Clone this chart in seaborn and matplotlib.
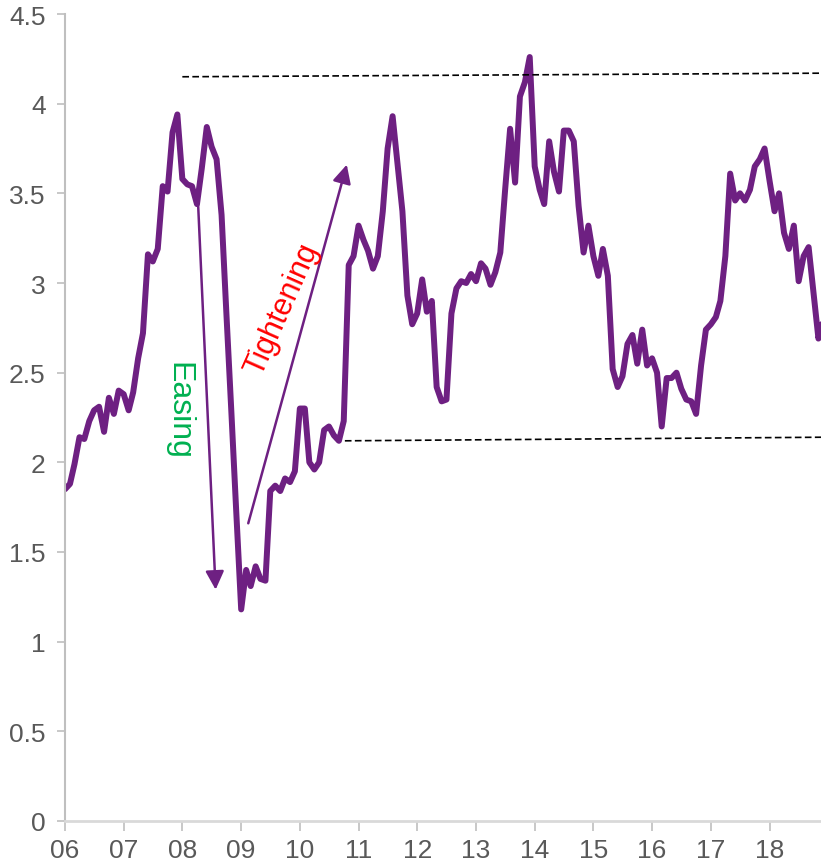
import pandas as pd
import numpy as np
import matplotlib
matplotlib.use("Agg")
import matplotlib.pyplot as plt
import matplotlib.dates as mdates
import seaborn as sns

# 월별 지표 값 (2006-01 ~ 2018-12)
values_2006 = [1.85, 1.88, 1.99, 2.14, 2.13, 2.23, 2.29, 2.31, 2.17, 2.36, 2.27, 2.40]
values_2007 = [2.38, 2.29, 2.39, 2.58, 2.72, 3.16, 3.12, 3.19, 3.54, 3.51, 3.84, 3.94]
values_2008 = [3.58, 3.55, 3.54, 3.44, 3.64, 3.87, 3.76, 3.69, 3.38, 2.83, 2.28, 1.73]
values_2009 = [1.18, 1.40, 1.31, 1.42, 1.35, 1.34, 1.84, 1.87, 1.84, 1.91, 1.89, 1.95]
values_2010 = [2.30, 2.30, 2.00, 1.96, 2.00, 2.18, 2.20, 2.15, 2.12, 2.23, 3.10, 3.15]
values_2011 = [3.32, 3.24, 3.18, 3.08, 3.15, 3.40, 3.75, 3.93, 3.66, 3.40, 2.93, 2.77]
values_2012 = [2.83, 3.02, 2.84, 2.90, 2.42, 2.34, 2.35, 2.83, 2.97, 3.01, 3.00, 3.05]
values_2013 = [3.01, 3.11, 3.08, 2.99, 3.06, 3.17, 3.52, 3.86, 3.56, 4.04, 4.12, 4.26]
values_2014 = [3.65, 3.52, 3.44, 3.79, 3.62, 3.51, 3.85, 3.85, 3.79, 3.43, 3.17, 3.32]
values_2015 = [3.15, 3.04, 3.19, 3.04, 2.52, 2.42, 2.48, 2.66, 2.71, 2.55, 2.74, 2.54]
values_2016 = [2.58, 2.50, 2.20, 2.47, 2.47, 2.50, 2.41, 2.35, 2.34, 2.27, 2.54, 2.74]
values_2017 = [2.77, 2.81, 2.90, 3.15, 3.61, 3.46, 3.50, 3.46, 3.52, 3.65, 3.69, 3.75]
values_2018 = [3.57, 3.40, 3.50, 3.28, 3.19, 3.32, 3.01, 3.15, 3.20, 2.95, 2.69, 2.80]

years = ['06', '07', '08', '09', '10', '11', '12', '13', '14', '15', '16', '17', '18']
y_ticks = [0, 0.5, 1, 1.5, 2, 2.5, 3, 3.5, 4, 4.5]

# 점선 (상단/하단 범위)
upper_band_x = ['2008-01-01', '2018-11-20']
upper_band_y = [4.15, 4.17]
lower_band_x = ['2010-10-08', '2018-11-20']
lower_band_y = [2.12, 2.14]

# 화살표 (시작점, 끝점)
easing_arrow = [('2008-04-08', 3.44), ('2008-07-26', 1.29)]
tightening_arrow = [('2009-02-14', 1.66), ('2010-10-20', 3.66)]

values = (values_2006 + values_2007 + values_2008 + values_2009 + values_2010 + values_2011
          + values_2012 + values_2013 + values_2014 + values_2015 + values_2016 + values_2017
          + values_2018)
dates = pd.date_range('2006-01-01', periods=len(values), freq='MS')
df = pd.DataFrame({'date': dates, 'value': values})

sns.set_style('white')
plt.rcParams['font.family'] = ['Liberation Sans', 'DejaVu Sans']

purple = '#6E2082'
gray_text = '#595959'

fig = plt.figure(figsize=(8.21, 8.62), dpi=100)
ax = fig.add_axes([65 / 821, 40 / 862, 1 - 65 / 821, (822 - 15) / 862])

sns.lineplot(data=df, x='date', y='value', color=purple, linewidth=4.3, ax=ax)

# 점선 그리기
ax.plot(pd.to_datetime(upper_band_x), upper_band_y, color='black', linestyle=(0, (4, 2)), linewidth=1.2)
ax.plot(pd.to_datetime(lower_band_x), lower_band_y, color='black', linestyle=(0, (4, 2)), linewidth=1.2)

# 화살표
arrow_style = dict(arrowstyle='-|>,head_length=0.8,head_width=0.4', color=purple, lw=1.8,
                   mutation_scale=14, shrinkA=0, shrinkB=0)
for arrow in [easing_arrow, tightening_arrow]:
    (x0, y0), (x1, y1) = arrow
    ax.annotate('', xy=(mdates.date2num(pd.Timestamp(x1)), y1),
                xytext=(mdates.date2num(pd.Timestamp(x0)), y0),
                arrowprops=arrow_style)

ax.text(mdates.date2num(pd.Timestamp('2007-12-10')), 2.29, 'Easing', color='#00B050', fontsize=23,
        rotation=-90, ha='center', va='center')
ax.text(mdates.date2num(pd.Timestamp('2009-09-12')), 2.86, 'Tightening', color='#FF0000', fontsize=22,
        rotation=66, ha='center', va='center', rotation_mode='anchor')

ax.set_xlim(pd.Timestamp('2006-01-01'), pd.Timestamp('2018-11-17'))
ax.set_ylim(0, 4.5)
ax.set_xticks([pd.Timestamp('20' + y + '-01-01') for y in years])
ax.set_xticklabels(years)
ax.set_yticks(y_ticks)
ax.set_yticklabels([f'{t:g}' for t in y_ticks])
ax.set_xlabel('')
ax.set_ylabel('')

for side in ['top', 'right']:
    ax.spines[side].set_visible(False)
ax.spines['left'].set_color('#BFBFBF')
ax.spines['left'].set_linewidth(1.5)
ax.spines['bottom'].set_color('#D9D9D9')
ax.spines['bottom'].set_linewidth(2)

ax.tick_params(axis='x', colors='#BFBFBF', length=7, width=1.2, direction='out', labelsize=19,
               labelcolor=gray_text, pad=5)
ax.tick_params(axis='y', colors='#BFBFBF', length=6, width=1.2, direction='out', labelsize=19,
               labelcolor=gray_text, pad=8)
ax.tick_params(bottom=True, left=True)

plt.savefig('out.png', dpi=100)
